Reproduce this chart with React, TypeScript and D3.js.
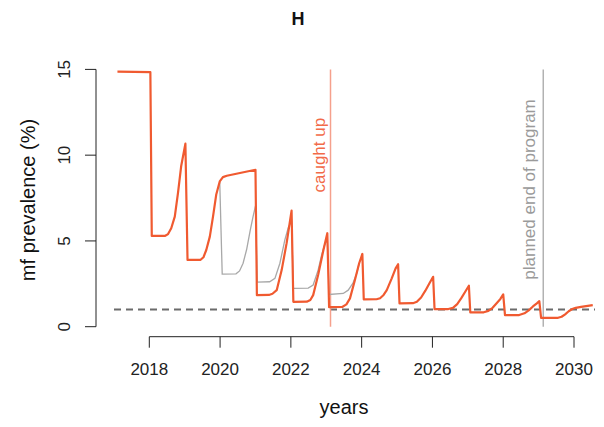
import { useEffect, useRef } from "react";
import * as d3 from "d3";

// main trajectory (orange), [year, mf prevalence %]
const caughtUpSeries = [
  [2017.1, 14.87], [2018.03, 14.84], [2018.07, 5.29], [2018.45, 5.3],
  [2018.53, 5.4], [2018.62, 5.74], [2018.72, 6.42], [2018.81, 7.79],
  [2018.9, 9.35], [2019.02, 10.67], [2019.08, 3.89], [2019.45, 3.9],
  [2019.53, 4.05], [2019.61, 4.47], [2019.71, 5.25], [2019.8, 6.42],
  [2019.89, 7.69], [2019.99, 8.47], [2020.08, 8.72], [2020.19, 8.8],
  [2021.0, 9.15], [2021.04, 1.84], [2021.38, 1.85], [2021.48, 1.92],
  [2021.6, 2.13], [2021.74, 3.3], [2021.88, 4.87], [2022.02, 6.77],
  [2022.07, 1.45], [2022.45, 1.46], [2022.55, 1.56], [2022.63, 1.84],
  [2022.77, 3.01], [2022.92, 4.47], [2023.03, 5.45], [2023.08, 1.14],
  [2023.45, 1.15], [2023.57, 1.3], [2023.67, 1.65], [2023.81, 2.72],
  [2023.93, 3.7], [2024.02, 4.24], [2024.06, 1.59], [2024.42, 1.6],
  [2024.52, 1.66], [2024.62, 1.85], [2024.71, 2.13], [2024.85, 2.82],
  [2024.96, 3.4], [2025.03, 3.64], [2025.07, 1.36], [2025.45, 1.37],
  [2025.56, 1.45], [2025.68, 1.7], [2025.8, 2.1], [2025.92, 2.55],
  [2026.02, 2.91], [2026.06, 1.02], [2026.45, 1.03], [2026.58, 1.1],
  [2026.7, 1.32], [2026.82, 1.68], [2026.93, 2.05], [2027.03, 2.39],
  [2027.07, 0.83], [2027.45, 0.84], [2027.58, 0.92], [2027.7, 1.1],
  [2027.82, 1.38], [2027.92, 1.62], [2028.0, 1.88], [2028.05, 0.67],
  [2028.45, 0.68], [2028.6, 0.78], [2028.72, 0.95], [2028.84, 1.18],
  [2028.95, 1.36], [2029.02, 1.49], [2029.07, 0.51], [2029.55, 0.52],
  [2029.65, 0.58], [2029.75, 0.72], [2029.85, 0.9], [2029.95, 1.03],
  [2030.05, 1.1], [2030.2, 1.16], [2030.53, 1.26],
];

// planned schedule where it differs (grey)
const plannedSeries = [
  [2019.99, 8.47], [2020.06, 3.07], [2020.45, 3.08], [2020.55, 3.25],
  [2020.65, 3.7], [2020.75, 4.5], [2020.85, 5.6], [2020.93, 6.4],
  [2021.0, 7.05], [2021.05, 2.6], [2021.4, 2.62], [2021.55, 2.82],
  [2021.69, 3.7], [2021.83, 5.06], [2021.93, 5.8], [2022.02, 6.15],
  [2022.07, 2.23], [2022.49, 2.25], [2022.63, 2.43], [2022.77, 3.3],
  [2022.87, 4.18], [2022.95, 4.75], [2023.03, 5.15], [2023.08, 1.88],
  [2023.48, 1.94], [2023.62, 2.13], [2023.75, 2.52], [2023.86, 3.1],
  [2023.93, 3.7],
];

const xTicks = [2018, 2020, 2022, 2024, 2026, 2028, 2030];
const yTicks = [0, 5, 10, 15];
const threshold = 1;
const caughtUpYear = 2023.12;
const programEndYear = 2029.13;

const FONT = "'Liberation Sans', Arial, Helvetica, sans-serif";

export default function App() {
  const svgRef = useRef(null);
  const width = 604;
  const height = 427;

  useEffect(() => {
    const svg = d3.select(svgRef.current);
    svg.selectAll("*").remove();

    const xScale = d3.scaleLinear().domain([2018, 2030]).range([149.3, 574]);
    const yScale = d3.scaleLinear().domain([0, 15]).range([326.7, 69.4]);
    const plotLeft = 114;
    const plotRight = 595;

    const line = d3
      .line()
      .x((d) => xScale(d[0]))
      .y((d) => yScale(d[1]));

    // threshold
    svg.append("line")
      .attr("x1", plotLeft)
      .attr("x2", plotRight)
      .attr("y1", yScale(threshold))
      .attr("y2", yScale(threshold))
      .attr("stroke", "#6b6b6b")
      .attr("stroke-width", 2)
      .attr("stroke-dasharray", "7,5");

    // vertical markers
    svg.append("line")
      .attr("x1", xScale(caughtUpYear))
      .attr("x2", xScale(caughtUpYear))
      .attr("y1", yScale(0))
      .attr("y2", yScale(15))
      .attr("stroke", "#f5a08c")
      .attr("stroke-width", 1.5);

    svg.append("line")
      .attr("x1", xScale(programEndYear))
      .attr("x2", xScale(programEndYear))
      .attr("y1", yScale(0))
      .attr("y2", yScale(15))
      .attr("stroke", "#a0a0a0")
      .attr("stroke-width", 1.2);

    svg.append("text")
      .attr("transform", `translate(${xScale(caughtUpYear) - 6},${yScale(10)}) rotate(-90)`)
      .attr("text-anchor", "middle")
      .style("font-family", FONT)
      .style("font-size", "17px")
      .attr("fill", "#f26a48")
      .text("caught up");

    svg.append("text")
      .attr("transform", `translate(${xScale(programEndYear) - 8},${yScale(8)}) rotate(-90)`)
      .attr("text-anchor", "middle")
      .style("font-family", FONT)
      .style("font-size", "17px")
      .attr("fill", "#9a9a9a")
      .text("planned end of program");

    // grey planned series under the orange one
    svg.append("path")
      .datum(plannedSeries)
      .attr("fill", "none")
      .attr("stroke", "#a8a8a8")
      .attr("stroke-width", 1.3)
      .attr("d", line);

    svg.append("path")
      .datum(caughtUpSeries)
      .attr("fill", "none")
      .attr("stroke", "#f05a30")
      .attr("stroke-width", 2.2)
      .attr("stroke-linejoin", "round")
      .attr("d", line);

    // x axis
    const xAxisY = 336.7;
    const gx = svg.append("g").attr("stroke", "#222").attr("stroke-width", 1);
    gx.append("line")
      .attr("x1", xScale(xTicks[0]))
      .attr("x2", xScale(xTicks[xTicks.length - 1]))
      .attr("y1", xAxisY)
      .attr("y2", xAxisY);
    gx.selectAll(".tick")
      .data(xTicks)
      .enter()
      .append("line")
      .attr("x1", (d) => xScale(d))
      .attr("x2", (d) => xScale(d))
      .attr("y1", xAxisY)
      .attr("y2", xAxisY + 11);
    svg.selectAll(".xlab")
      .data(xTicks)
      .enter()
      .append("text")
      .attr("x", (d) => xScale(d))
      .attr("y", 375)
      .attr("text-anchor", "middle")
      .style("font-family", FONT)
      .style("font-size", "17px")
      .attr("fill", "#222")
      .text((d) => d);

    // y axis
    const yAxisX = 96;
    const gy = svg.append("g").attr("stroke", "#222").attr("stroke-width", 1);
    gy.append("line")
      .attr("x1", yAxisX)
      .attr("x2", yAxisX)
      .attr("y1", yScale(yTicks[0]))
      .attr("y2", yScale(yTicks[yTicks.length - 1]));
    gy.selectAll(".tick")
      .data(yTicks)
      .enter()
      .append("line")
      .attr("x1", yAxisX - 11)
      .attr("x2", yAxisX)
      .attr("y1", (d) => yScale(d))
      .attr("y2", (d) => yScale(d));
    svg.selectAll(".ylab")
      .data(yTicks)
      .enter()
      .append("text")
      .attr("transform", (d) => `translate(${yAxisX - 26},${yScale(d)}) rotate(-90)`)
      .attr("text-anchor", "middle")
      .style("font-family", FONT)
      .style("font-size", "17px")
      .attr("fill", "#222")
      .text((d) => d);

    // titles
    svg.append("text")
      .attr("x", 298)
      .attr("y", 25)
      .attr("text-anchor", "middle")
      .style("font-family", FONT)
      .style("font-size", "18px")
      .style("font-weight", "bold")
      .attr("fill", "#111")
      .text("H");

    svg.append("text")
      .attr("x", 344)
      .attr("y", 414)
      .attr("text-anchor", "middle")
      .style("font-family", FONT)
      .style("font-size", "20px")
      .attr("fill", "#111")
      .text("years");

    svg.append("text")
      .attr("transform", `translate(35,200) rotate(-90)`)
      .attr("text-anchor", "middle")
      .style("font-family", FONT)
      .style("font-size", "20px")
      .attr("fill", "#111")
      .text("mf prevalence (%)");
  }, []);

  return (
    <svg
      ref={svgRef}
      width={width}
      height={height}
      style={{ position: "absolute", left: 0, top: 0, background: "#fff" }}
    ></svg>
  );
}
